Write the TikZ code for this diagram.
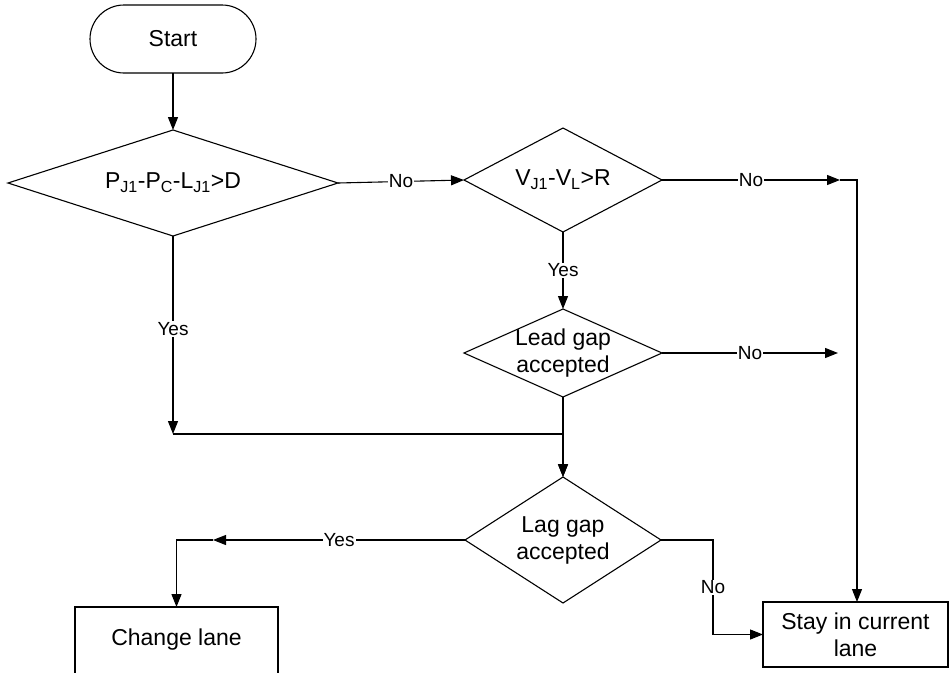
\documentclass[tikz,border=0pt]{standalone}
\usepackage{fontspec}
\setmainfont{Liberation Sans}
\usetikzlibrary{shapes.geometric,arrows.meta}
\begin{document}
\begin{tikzpicture}[x=1pt,y=-1pt,
  line width=1.1pt,
  arr/.style={-{Triangle[length=13pt,width=10pt]}},
  txt/.style={font=\fontsize{23}{27}\selectfont, align=center},
  lbl/.style={font=\fontsize{19}{22}\selectfont, fill=white, inner sep=1pt},
  dia/.style={diamond, draw, inner sep=0pt, outer sep=0pt},
  box/.style={rectangle, draw, inner sep=0pt, outer sep=0pt}]
\useasboundingbox (0,0) rectangle (950,672);
\clip (0,0) rectangle (950,672);

\node[box, rounded corners=34pt, minimum width=166pt, minimum height=68pt, txt] (start) at (173,39) {Start};
\node[dia, minimum width=330pt, minimum height=106pt] (d1) at (173,183) {};
\node[txt] (d1t) at (d1.center) {P\textsubscript{J1}-P\textsubscript{C}-L\textsubscript{J1}>D};
\node[dia, minimum width=198pt, minimum height=104pt] (d2) at (563,180) {};
\node[txt] (d2t) at (d2.center) {V\textsubscript{J1}-V\textsubscript{L}>R};
\node[dia, minimum width=198pt, minimum height=88pt] (lead) at (563,353) {};
\node[txt] (leadt) at (lead.center) {Lead gap\\accepted};
\node[dia, minimum width=196pt, minimum height=126pt] (lag) at (563,540) {};
\node[txt] (lagt) at (lag.center) {Lag gap\\accepted};
\node[box, minimum width=185pt, minimum height=65pt, txt] (stay) at (855.5,634.5) {Stay in current\\lane};
\node[box, minimum width=203pt, minimum height=74pt, txt] (change) at (176.5,644) {};
\node[txt] (changet) at (176.5,640) {Change lane};

\coordinate (c1) at (840,180);
\coordinate (c3) at (838,353);
\coordinate (j1) at (173,434);
\coordinate (c4) at (213,540);

\draw[arr] (start) -- (d1);
\draw[arr] (d1.east) -- node[lbl]{No} (d2.west);
\draw[arr] (d2.east) -- node[lbl]{No} (c1);
\draw[arr] (c1) -- ++(17,0) coordinate (c2) -- (c2 |- stay.north);
\draw[arr] (d2.south) -- node[lbl]{Yes} (lead.north);
\draw[arr] (lead.east) -- node[lbl]{No} (c3);
\draw[arr] (d1.south) -- node[lbl, pos=0.47]{Yes} (j1);
\draw[arr] (j1) -- (j1 -| lag.north) -- (lag.north);
\draw[arr] (lead.south) -- (lag.north);
\draw[arr] (lag.west) -- node[lbl]{Yes} (c4);
\draw[arr] (c4) -| (change.north);
\draw[arr] (lag.east) -- ++(52,0) |- node[lbl, pos=0.25]{No} (stay.west);
\end{tikzpicture}
\end{document}
